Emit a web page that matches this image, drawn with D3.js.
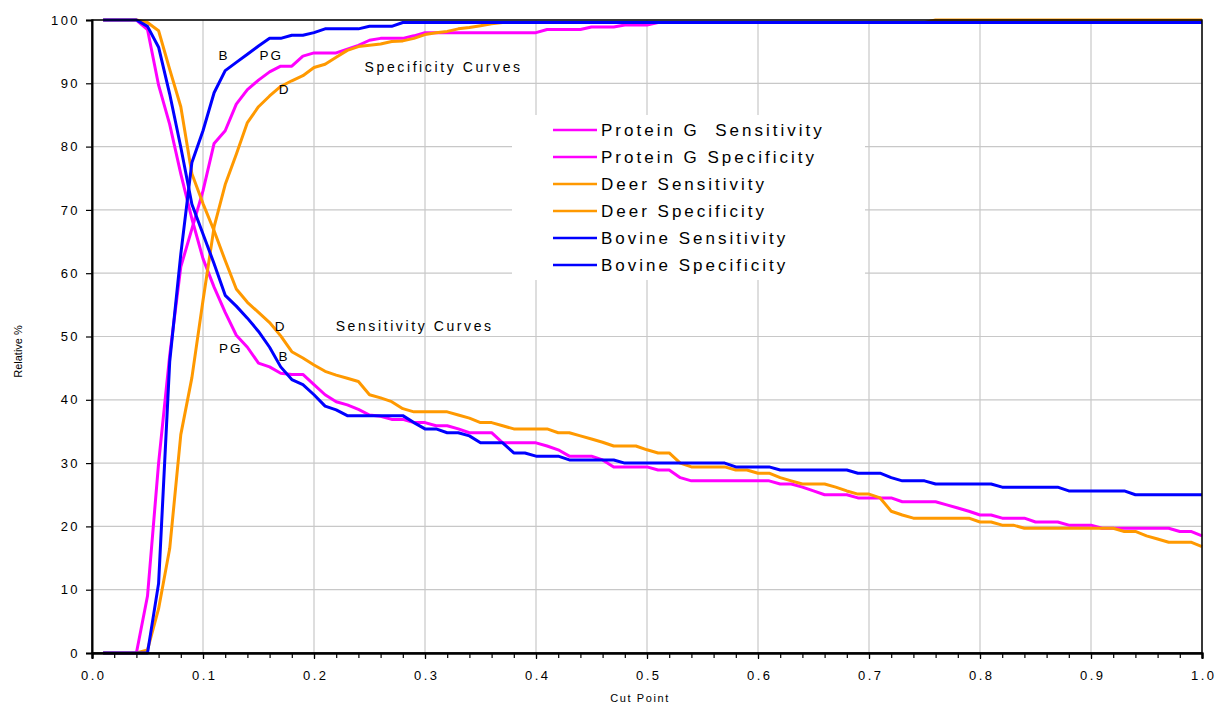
<!DOCTYPE html>
<html>
<head>
<meta charset="utf-8">
<script src="https://cdn.jsdelivr.net/npm/d3@7"></script>
<style>
  body { margin: 0; background: #fff; }
  text { font-family: "Liberation Sans", Arial, sans-serif; fill: #000; }
</style>
</head>
<body>
<script>
// Cut points (x axis)
const cutPoints = [
  0.01,0.02,0.03,0.04,0.05,0.06,0.07,0.08,0.09,0.10,
  0.11,0.12,0.13,0.14,0.15,0.16,0.17,0.18,0.19,0.20,
  0.21,0.22,0.23,0.24,0.25,0.26,0.27,0.28,0.29,0.30,
  0.31,0.32,0.33,0.34,0.35,0.36,0.37,0.38,0.39,0.40,
  0.41,0.42,0.43,0.44,0.45,0.46,0.47,0.48,0.49,0.50,
  0.51,0.52,0.53,0.54,0.55,0.56,0.57,0.58,0.59,0.60,
  0.61,0.62,0.63,0.64,0.65,0.66,0.67,0.68,0.69,0.70,
  0.71,0.72,0.73,0.74,0.75,0.76,0.77,0.78,0.79,0.80,
  0.81,0.82,0.83,0.84,0.85,0.86,0.87,0.88,0.89,0.90,
  0.91,0.92,0.93,0.94,0.95,0.96,0.97,0.98,0.99,1.00
];

// Protein G
const pgSens = [
  100,100,100,100,98.5,89.7,83.5,75.7,68.6,62.3,
  57.8,53.8,50.2,48.3,45.8,45.2,44.2,44,44,42.4,
  40.8,39.7,39.2,38.5,37.6,37.4,36.9,36.9,36.4,36.4,
  35.9,35.9,35.4,34.8,34.8,34.8,33.2,33.2,33.2,33.2,
  32.7,32.1,31.1,31.1,31.1,30.5,29.4,29.4,29.4,29.4,
  28.9,28.9,27.7,27.2,27.2,27.2,27.2,27.2,27.2,27.2,
  27.2,26.7,26.7,26.2,25.6,25,25,25,24.5,24.5,
  24.5,24.5,23.9,23.9,23.9,23.9,23.4,22.9,22.4,21.8,
  21.8,21.3,21.3,21.3,20.7,20.7,20.7,20.2,20.2,20.2,
  19.7,19.7,19.7,19.7,19.7,19.7,19.7,19.2,19.2,18.5
];
const pgSpec = [
  0,0,0,0,9,30,47,61,67,73,
  80.5,82.5,86.7,89,90.5,91.8,92.7,92.7,94.3,94.8,
  94.8,94.8,95.4,96,96.8,97.1,97.1,97.1,97.5,98,
  98,98,98,98,98,98,98,98,98,98,
  98.5,98.5,98.5,98.5,98.9,98.9,98.9,99.2,99.2,99.2,
  99.6,99.6,99.6,99.6,99.6,99.6,99.6,99.6,99.6,99.6,
  99.6,99.6,99.6,99.6,99.6,99.6,99.6,99.6,99.6,99.6,
  99.6,99.6,99.6,99.6,99.6,99.6,99.6,99.6,99.6,99.6,
  99.6,99.6,99.6,99.6,99.6,99.6,99.6,99.6,99.6,99.6,
  99.6,99.6,99.6,99.6,99.6,99.6,99.6,99.6,99.6,99.6
];

// Deer
const deerSens = [
  100,100,100,100,99.6,98.3,92.2,86.3,75.7,71,
  66.7,62,57.5,55.4,53.8,52.2,50.1,47.6,46.6,45.5,
  44.5,43.9,43.4,42.9,40.8,40.3,39.7,38.6,38.1,38.1,
  38.1,38.1,37.6,37.1,36.4,36.4,35.9,35.4,35.4,35.4,
  35.4,34.8,34.8,34.3,33.8,33.3,32.7,32.7,32.7,32.1,
  31.6,31.6,30,29.4,29.4,29.4,29.4,28.9,28.9,28.4,
  28.4,27.7,27.2,26.7,26.7,26.7,26.2,25.6,25.1,25.1,
  24.5,22.4,21.8,21.3,21.3,21.3,21.3,21.3,21.3,20.7,
  20.7,20.2,20.2,19.7,19.7,19.7,19.7,19.7,19.7,19.7,
  19.7,19.7,19.2,19.2,18.5,18,17.5,17.5,17.5,16.8
];
const deerSpec = [
  0,0,0,0,0.5,7,16.5,34.5,43.5,55.7,
  67.3,74,78.8,83.8,86.3,88,89.5,90.4,91.2,92.5,
  93,94.1,95.2,95.8,96,96.2,96.6,96.7,97.1,97.7,
  98,98.2,98.6,98.8,99.1,99.4,99.6,99.6,99.6,99.6,
  99.6,99.6,99.6,99.6,99.6,99.6,99.6,99.6,99.6,99.6,
  99.6,99.6,99.6,99.6,99.6,99.6,99.6,99.6,99.6,99.6,
  99.6,99.6,99.6,99.6,99.6,99.6,99.6,99.6,99.6,99.6,
  99.6,99.6,99.6,99.6,99.6,100,100,100,100,100,
  100,100,100,100,100,100,100,100,100,100,
  100,100,100,100,100,100,100,100,100,100
];

// Bovine
const bovSens = [
  100,100,100,100,99,95.7,88.3,79.9,70.9,66.2,
  61.5,56.5,54.8,52.9,50.8,48.3,45.2,43.2,42.4,40.8,
  39,38.4,37.5,37.5,37.5,37.5,37.5,37.5,36.4,35.4,
  35.4,34.8,34.8,34.3,33.2,33.2,33.2,31.6,31.6,31.1,
  31.1,31.1,30.5,30.5,30.5,30.5,30.5,30,30,30,
  30,30,30,30,30,30,30,29.4,29.4,29.4,
  29.4,28.9,28.9,28.9,28.9,28.9,28.9,28.9,28.4,28.4,
  28.4,27.7,27.2,27.2,27.2,26.7,26.7,26.7,26.7,26.7,
  26.7,26.2,26.2,26.2,26.2,26.2,26.2,25.6,25.6,25.6,
  25.6,25.6,25.6,25,25,25,25,25,25,25
];
const bovSpec = [
  0,0,0,0,0,11,46,63,77.5,82.5,
  88.5,92,93.3,94.6,95.9,97.1,97.1,97.6,97.6,98,
  98.6,98.6,98.6,98.6,99,99,99,99.6,99.6,99.6,
  99.6,99.6,99.6,99.6,99.6,99.6,99.6,99.6,99.6,99.6,
  99.6,99.6,99.6,99.6,99.6,99.6,99.6,99.6,99.6,99.6,
  99.6,99.6,99.6,99.6,99.6,99.6,99.6,99.6,99.6,99.6,
  99.6,99.6,99.6,99.6,99.6,99.6,99.6,99.6,99.6,99.6,
  99.6,99.6,99.6,99.6,99.6,99.6,99.6,99.6,99.6,99.6,
  99.6,99.6,99.6,99.6,99.6,99.6,99.6,99.6,99.6,99.6,
  99.6,99.6,99.6,99.6,99.6,99.6,99.6,99.6,99.6,99.6
];

const seriesNames = [
  "Protein G  Sensitivity", "Protein G Specificity",
  "Deer Sensitivity", "Deer Specificity",
  "Bovine Sensitivity", "Bovine Specificity"
];
const seriesValues = [pgSens, pgSpec, deerSens, deerSpec, bovSens, bovSpec];
const seriesColors = ["#ff00ff", "#ff00ff", "#ff9900", "#ff9900", "#0000ff", "#0000ff"];

const yTicks = [0, 10, 20, 30, 40, 50, 60, 70, 80, 90, 100];
const xTicks = [0, 0.1, 0.2, 0.3, 0.4, 0.5, 0.6, 0.7, 0.8, 0.9, 1.0];
const xMinorTicks = d3.range(0, 51).map(d => d / 50);

// labels on the curves (data coordinates)
const curveLabels = [
  { text: "B", x: 0.118, y: 93.7, anchor: "middle" },
  { text: "PG", x: 0.1605, y: 93.7, anchor: "middle" },
  { text: "D", x: 0.1727, y: 88.3, anchor: "middle" },
  { text: "D", x: 0.1691, y: 50.9, anchor: "middle" },
  { text: "PG", x: 0.124, y: 47.4, anchor: "middle" },
  { text: "B", x: 0.172, y: 46.2, anchor: "middle" }
];
const curveTitles = [
  { text: "Specificity Curves", x: 0.2456, y: 91.8 },
  { text: "Sensitivity Curves", x: 0.2195, y: 50.9 }
];

const width = 1215, height = 704;
const margin = { left: 92, right: 13, top: 20, bottom: 51 };
const chartWidth = width - margin.left - margin.right;
const chartHeight = height - margin.top - margin.bottom;

const svg = d3.select("body").append("svg")
  .attr("width", width)
  .attr("height", height);

const g = svg.append("g")
  .attr("transform", `translate(${margin.left}, ${margin.top})`);

const xScale = d3.scaleLinear().domain([0, 1]).range([0, chartWidth]);
const yScale = d3.scaleLinear().domain([0, 100]).range([chartHeight, 0]);

// grid
g.append("g").selectAll("line").data(yTicks.slice(1)).enter().append("line")
  .attr("x1", 0).attr("x2", chartWidth)
  .attr("y1", d => yScale(d)).attr("y2", d => yScale(d))
  .attr("stroke", "#c8c8c8").attr("stroke-width", 1.2);
g.append("g").selectAll("line").data(xTicks.slice(1)).enter().append("line")
  .attr("y1", 0).attr("y2", chartHeight)
  .attr("x1", d => xScale(d)).attr("x2", d => xScale(d))
  .attr("stroke", "#c8c8c8").attr("stroke-width", 1.2);

// legend background (hides the grid)
const legend = svg.append("g");
legend.append("rect")
  .attr("x", 512).attr("y", 115).attr("width", 353).attr("height", 165)
  .attr("fill", "#fff");

// curves
const line = d3.line()
  .x((d, i) => xScale(cutPoints[i]))
  .y(d => yScale(d));

g.append("g").selectAll("path").data(seriesValues).enter().append("path")
  .attr("d", d => line(d))
  .attr("fill", "none")
  .attr("stroke", (d, i) => seriesColors[i])
  .attr("stroke-width", 3)
  .attr("stroke-linejoin", "round");

// frame + axes
g.append("rect")
  .attr("x", 0).attr("y", 0).attr("width", chartWidth).attr("height", chartHeight)
  .attr("fill", "none").attr("stroke", "#000").attr("stroke-width", 1.5);

const yAxis = g.append("g")
  .call(d3.axisLeft(yScale).tickValues(yTicks).tickSize(6).tickFormat(d3.format("d")));
const xAxis = g.append("g")
  .attr("transform", `translate(0, ${chartHeight})`)
  .call(d3.axisBottom(xScale).tickValues(xMinorTicks).tickSize(5).tickFormat(""));
g.append("g")
  .attr("transform", `translate(0, ${chartHeight})`)
  .call(d3.axisBottom(xScale).tickValues(xTicks).tickSize(6).tickPadding(12).tickFormat(d3.format(".1f")));

g.selectAll(".domain").attr("stroke", "#000").attr("stroke-width", 2);
g.selectAll(".tick line").attr("stroke", "#000").attr("stroke-width", 1.2);
g.selectAll(".tick text")
  .style("font-family", "'Liberation Sans', Arial, sans-serif")
  .style("font-size", "13px")
  .style("letter-spacing", "2.4px");
yAxis.selectAll(".tick text").attr("x", -12);
g.selectAll("g.tick text").filter(function () { return this.parentNode.parentNode !== yAxis.node(); })
  .attr("dx", "1.2px");

// axis titles
svg.append("text")
  .attr("transform", `translate(22, ${margin.top + chartHeight / 2 + 15}) rotate(-90)`)
  .attr("text-anchor", "middle")
  .style("font-size", "11px")
  .text("Relative %");
svg.append("text")
  .attr("x", margin.left + chartWidth / 2 - 7)
  .attr("y", 702)
  .attr("text-anchor", "middle")
  .style("font-size", "11px")
  .style("letter-spacing", "1.6px")
  .text("Cut Point");

// curve annotations
g.selectAll("text.lbl").data(curveLabels).enter().append("text")
  .attr("class", "lbl")
  .attr("x", d => xScale(d.x) + 1)
  .attr("y", d => yScale(d.y))
  .attr("text-anchor", d => d.anchor)
  .style("font-size", "13.5px")
  .style("letter-spacing", "2px")
  .text(d => d.text);
g.selectAll("text.ttl").data(curveTitles).enter().append("text")
  .attr("class", "ttl")
  .attr("x", d => xScale(d.x))
  .attr("y", d => yScale(d.y))
  .style("font-size", "14px")
  .style("letter-spacing", "2.6px")
  .text(d => d.text);

// legend entries
const rows = legend.selectAll("g.row").data(seriesNames).enter().append("g")
  .attr("class", "row")
  .attr("transform", (d, i) => `translate(553, ${130 + i * 27})`);
rows.append("line")
  .attr("x1", 0).attr("x2", 44)
  .attr("stroke", (d, i) => seriesColors[i])
  .attr("stroke-width", 2.5);
rows.append("text")
  .attr("x", 48)
  .attr("y", 6)
  .style("font-size", "17px")
  .style("letter-spacing", "3px")
  .style("white-space", "pre")
  .text(d => d);
</script>
</body>
</html>
